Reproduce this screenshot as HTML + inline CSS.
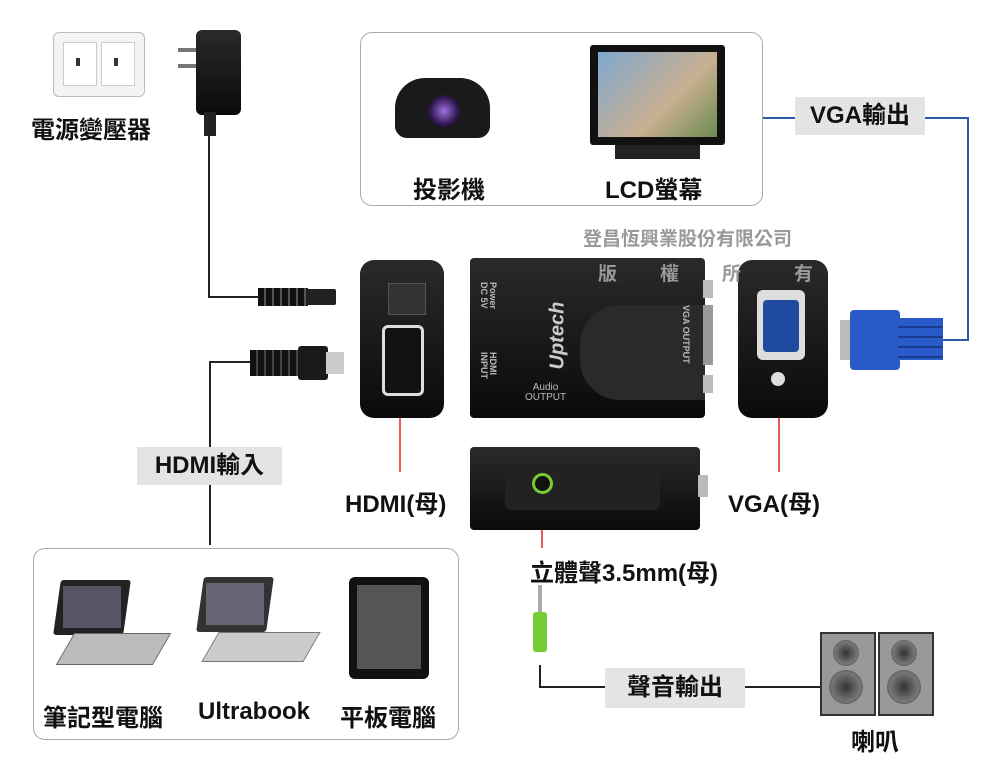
<!DOCTYPE html>
<html><head><meta charset="utf-8"><style>
body{margin:0;width:1000px;height:763px;background:#fff;position:relative;overflow:hidden;font-family:"Liberation Sans","Noto Sans CJK TC",sans-serif;}
.a{position:absolute;}
.t{position:absolute;font-weight:bold;font-size:24px;color:#111;white-space:nowrap;}
.lbl{position:absolute;background:#e4e4e4;font-weight:bold;font-size:24px;color:#111;text-align:center;}
.blk{position:absolute;background:linear-gradient(#2a2a2a,#0a0a0a);border-radius:8px;}
.rot{position:absolute;color:#bbb;font-size:9px;line-height:9px;font-weight:bold;transform:rotate(90deg);transform-origin:left top;white-space:nowrap;}
</style></head><body>
<div class="a" style="left:53px;top:32px;width:90px;height:63px;border:1px solid #bbb;border-radius:6px;background:#f4f4f4"></div>
<div class="a" style="left:63px;top:42px;width:32px;height:42px;border:1px solid #ccc;background:#fff"></div>
<div class="a" style="left:101px;top:42px;width:32px;height:42px;border:1px solid #ccc;background:#fff"></div>
<div class="a" style="left:76px;top:58px;width:4px;height:8px;background:#333"></div>
<div class="a" style="left:114px;top:58px;width:4px;height:8px;background:#333"></div>
<div class="t" style="left:31px;top:110px">電源變壓器</div>
<div class="a" style="left:178px;top:48px;width:18px;height:4px;background:#777"></div>
<div class="a" style="left:178px;top:64px;width:18px;height:4px;background:#777"></div>
<div class="blk" style="left:196px;top:30px;width:45px;height:85px;border-radius:6px"></div>
<div class="a" style="left:204px;top:112px;width:12px;height:24px;background:#222"></div>
<svg class="a" style="left:0;top:0" width="1000" height="763">
<path d="M209 136 V297 H258" stroke="#222" stroke-width="2" fill="none"/>
<path d="M250 362 H210 V545" stroke="#222" stroke-width="2" fill="none"/>
<path d="M762 118 H795 M925 118 H968 V340 H940" stroke="#2a5aa8" stroke-width="2" fill="none"/>
<path d="M400 360 V472 M779 380 V472 M542 490 V548" stroke="#d22" stroke-width="1.5" fill="none"/>
<path d="M540 665 V687 H608 M745 687 H820" stroke="#222" stroke-width="2" fill="none"/>
</svg>
<div class="a" style="left:258px;top:288px;width:50px;height:18px;background:repeating-linear-gradient(90deg,#111 0 6px,#555 6px 8px)"></div>
<div class="a" style="left:306px;top:289px;width:30px;height:16px;background:#222;border-radius:2px"></div>
<div class="a" style="left:360px;top:32px;width:401px;height:172px;border:1px solid #aaa;border-radius:12px"></div>
<div class="a" style="left:395px;top:78px;width:95px;height:60px;background:#1a1a1a;border-radius:30px 30px 12px 12px"></div>
<div class="a" style="left:428px;top:95px;width:32px;height:32px;border-radius:50%;background:radial-gradient(#a070e0,#301850 60%,#111)"></div>
<div class="a" style="left:590px;top:45px;width:135px;height:100px;background:#111;border-radius:3px"></div>
<div class="a" style="left:598px;top:52px;width:119px;height:85px;background:linear-gradient(135deg,#7fa8d0,#c8b090 60%,#6a8a50)"></div>
<div class="a" style="left:615px;top:145px;width:85px;height:14px;background:#222"></div>
<div class="t" style="left:413px;top:170px">投影機</div>
<div class="t" style="left:605px;top:170px">LCD螢幕</div>
<div class="lbl" style="left:795px;top:97px;width:130px;height:38px;line-height:38px">VGA輸出</div>
<div class="a" style="left:583px;top:224px;font-size:19px;color:#999;font-weight:bold">登昌恆興業股份有限公司</div>
<div class="blk" style="left:360px;top:260px;width:84px;height:158px;border-radius:14px"></div>
<div class="a" style="left:388px;top:283px;width:36px;height:30px;background:#333;border:1px solid #555"></div>
<div class="a" style="left:382px;top:325px;width:36px;height:65px;border:3px solid #ddd;border-radius:6px;background:#111"></div>
<div class="blk" style="left:470px;top:258px;width:235px;height:160px;border-radius:4px"></div>
<div class="a" style="left:580px;top:305px;width:125px;height:95px;background:#2a2a2a;border-radius:40px 0 0 40px"></div>
<div class="a" style="left:703px;top:280px;width:10px;height:18px;background:#bbb"></div>
<div class="a" style="left:703px;top:305px;width:10px;height:60px;background:#999"></div>
<div class="a" style="left:703px;top:375px;width:10px;height:18px;background:#bbb"></div>
<div class="rot" style="left:497px;top:282px">Power<br>DC 5V</div>
<div class="rot" style="left:497px;top:352px">HDMI<br>INPUT</div>
<div class="rot" style="left:690px;top:305px">VGA OUTPUT</div>
<div class="a" style="left:528px;top:328px;width:60px;font-size:20px;font-style:italic;font-weight:bold;color:#ccc;transform:rotate(-90deg);text-align:center">Uptech</div>
<div class="a" style="left:525px;top:383px;font-size:10px;color:#bbb;text-align:center;line-height:10px">Audio<br>OUTPUT</div>
<div class="blk" style="left:738px;top:260px;width:90px;height:158px;border-radius:14px"></div>
<div class="a" style="left:757px;top:290px;width:48px;height:70px;background:#ddd;border-radius:6px"></div>
<div class="a" style="left:763px;top:300px;width:36px;height:52px;background:#1f4aa0;border-radius:4px"></div>
<div class="a" style="left:771px;top:372px;width:14px;height:14px;border-radius:50%;background:#ddd"></div>
<div class="a" style="left:598px;top:259px;font-size:19px;color:#999;font-weight:bold;z-index:5;white-space:nowrap">版<span style="margin-left:43px">權</span><span style="margin-left:43px">所</span><span style="margin-left:53px">有</span></div>
<div class="a" style="left:840px;top:320px;width:12px;height:40px;background:#bbb"></div>
<div class="a" style="left:850px;top:310px;width:50px;height:60px;background:#2a5ac8;border-radius:4px"></div>
<div class="a" style="left:898px;top:318px;width:45px;height:42px;background:repeating-linear-gradient(#2a5ac8 0 8px,#1a3a90 8px 10px)"></div>
<div class="a" style="left:250px;top:350px;width:50px;height:26px;background:repeating-linear-gradient(90deg,#111 0 6px,#444 6px 8px)"></div>
<div class="a" style="left:298px;top:346px;width:30px;height:34px;background:#1a1a1a;border-radius:3px"></div>
<div class="a" style="left:326px;top:352px;width:18px;height:22px;background:#ccc"></div>
<div class="lbl" style="left:137px;top:447px;width:145px;height:38px;line-height:38px">HDMI輸入</div>
<div class="t" style="left:345px;top:484px">HDMI(母)</div>
<div class="t" style="left:728px;top:484px">VGA(母)</div>
<div class="blk" style="left:470px;top:447px;width:230px;height:83px;border-radius:4px"></div>
<div class="a" style="left:698px;top:475px;width:10px;height:22px;background:#bbb"></div>
<div class="a" style="left:505px;top:465px;width:155px;height:45px;background:#222;border-radius:6px"></div>
<div class="a" style="left:532px;top:473px;width:15px;height:15px;border-radius:50%;border:3px solid #7c3;background:#111"></div>
<div class="t" style="left:530px;top:553px">立體聲3.5mm(母)</div>
<div class="a" style="left:538px;top:585px;width:4px;height:28px;background:#aaa"></div>
<div class="a" style="left:533px;top:612px;width:14px;height:40px;background:#7c3;border-radius:3px"></div>
<div class="lbl" style="left:605px;top:668px;width:140px;height:40px;line-height:40px">聲音輸出</div>
<div class="a" style="left:820px;top:632px;width:52px;height:80px;background:#999;border:2px solid #333"></div>
<div class="a" style="left:878px;top:632px;width:52px;height:80px;background:#999;border:2px solid #333"></div>
<div class="a" style="left:833px;top:640px;width:26px;height:26px;border-radius:50%;background:radial-gradient(#333,#777 60%,#222)"></div>
<div class="a" style="left:829px;top:670px;width:34px;height:34px;border-radius:50%;background:radial-gradient(#333,#777 60%,#222)"></div>
<div class="a" style="left:891px;top:640px;width:26px;height:26px;border-radius:50%;background:radial-gradient(#333,#777 60%,#222)"></div>
<div class="a" style="left:887px;top:670px;width:34px;height:34px;border-radius:50%;background:radial-gradient(#333,#777 60%,#222)"></div>
<div class="t" style="left:851px;top:722px">喇叭</div>
<div class="a" style="left:33px;top:548px;width:424px;height:190px;border:1px solid #aaa;border-radius:12px"></div>
<div class="a" style="left:57px;top:580px;width:70px;height:55px;background:#222;border-radius:3px;transform:skewX(-8deg)"></div>
<div class="a" style="left:63px;top:586px;width:58px;height:42px;background:#556"></div>
<div class="a" style="left:65px;top:633px;width:95px;height:30px;background:#bbb;transform:skewX(-30deg);border:1px solid #666"></div>
<div class="a" style="left:200px;top:577px;width:70px;height:55px;background:#333;border-radius:3px;transform:skewX(-8deg)"></div>
<div class="a" style="left:206px;top:583px;width:58px;height:42px;background:#667"></div>
<div class="a" style="left:210px;top:632px;width:100px;height:28px;background:#ccc;transform:skewX(-30deg);border:1px solid #777"></div>
<div class="a" style="left:349px;top:577px;width:80px;height:102px;background:#111;border-radius:6px"></div>
<div class="a" style="left:357px;top:585px;width:64px;height:84px;background:#555"></div>
<div class="t" style="left:43px;top:698px">筆記型電腦</div>
<div class="t" style="left:198px;top:698px">Ultrabook</div>
<div class="t" style="left:340px;top:698px">平板電腦</div>
</body></html>
